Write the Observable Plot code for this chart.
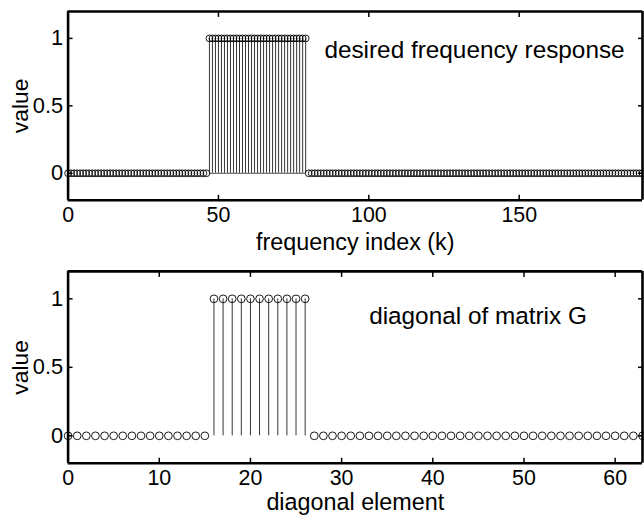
<!DOCTYPE html>
<html>
<head>
<meta charset="utf-8">
<script src="https://cdn.jsdelivr.net/npm/d3@7"></script>
<script src="https://cdn.jsdelivr.net/npm/@observablehq/plot@0.6"></script>
<style>
  html, body { margin: 0; padding: 0; background: #fff; overflow: hidden; width: 644px; height: 522px; }
  #chart svg { display: block; }
</style>
</head>
<body>
<div id="chart"></div>
<script>
// ---- data ----
const freqValues = [
  0,0,0,0,0,0,0,0,0,0,0,0,0,0,0,0,
  0,0,0,0,0,0,0,0,0,0,0,0,0,0,0,0,
  0,0,0,0,0,0,0,0,0,0,0,0,0,0,0,1,
  1,1,1,1,1,1,1,1,1,1,1,1,1,1,1,1,
  1,1,1,1,1,1,1,1,1,1,1,1,1,1,1,1,
  0,0,0,0,0,0,0,0,0,0,0,0,0,0,0,0,
  0,0,0,0,0,0,0,0,0,0,0,0,0,0,0,0,
  0,0,0,0,0,0,0,0,0,0,0,0,0,0,0,0,
  0,0,0,0,0,0,0,0,0,0,0,0,0,0,0,0,
  0,0,0,0,0,0,0,0,0,0,0,0,0,0,0,0,
  0,0,0,0,0,0,0,0,0,0,0,0,0,0,0,0,
  0,0,0,0,0,0,0,0,0,0,0,0,0,0,0,0
];
const diagValues = [
  0,0,0,0,0,0,0,0,0,0,0,0,0,0,0,0,
  1,1,1,1,1,1,1,1,1,1,1,0,0,0,0,0,
  0,0,0,0,0,0,0,0,0,0,0,0,0,0,0,0,
  0,0,0,0,0,0,0,0,0,0,0,0,0,0,0,0
];
const freqTicks = [0, 50, 100, 150];
const diagTicks = [0, 10, 20, 30, 40, 50, 60];
const valueTicks = [0, 0.5, 1];
const freqDomain = [0, 191];
const diagDomain = [0, 63];
const valueDomain = [-0.2, 1.2];
const titles = ["desired frequency response", "diagonal of matrix G"];
const xLabels = ["frequency index (k)", "diagonal element"];
const yLabel = "value";

const FONT = "'Liberation Sans', Arial, Helvetica, sans-serif";

function stemPlot({values, xDomain, xTicks, title, xLabel, height, marginTop, marginBottom, titleDx, titleDy, labelDy, r, baseline}) {
  const data = values.map((v, i) => ({k: i, v}));
  const nonzero = data.filter(d => d.v !== 0);
  const band = baseline && nonzero.length ? [{x1: d3.min(nonzero, d => d.k), x2: d3.max(nonzero, d => d.k)}] : [];
  return Plot.plot({
    width: 648,
    height,
    marginLeft: 68,
    marginRight: 2,
    marginTop,
    marginBottom,
    style: {fontFamily: FONT, fontSize: "22px", color: "#000", background: "#fff", overflow: "visible"},
    x: {domain: xDomain, label: null},
    y: {domain: valueDomain, label: null},
    marks: [
      Plot.ruleX(nonzero, {x: "k", y1: 0, y2: "v", stroke: "#000", strokeWidth: 0.8}),
      Plot.ruleY(band, {x1: "x1", x2: "x2", y: () => 0, stroke: "#000", strokeWidth: 0.7}),
      Plot.dot(data, {x: "k", y: "v", r, stroke: "#000", fill: "none", strokeWidth: 0.9}),
      // frame
      Plot.ruleY(valueDomain, {stroke: "#000", strokeWidth: 2.6}),
      Plot.ruleX(xDomain, {stroke: "#000", strokeWidth: 2.6}),
      // axes with inward ticks
      Plot.axisX(xTicks, {anchor: "bottom", tickSize: -5, tickPadding: 12, fontSize: 21.5, label: null, tickFormat: d => String(d), strokeWidth: 1.5}),
      Plot.axisX(xTicks, {anchor: "top", tickSize: -5, tickFormat: () => "", label: null, strokeWidth: 1.5}),
      Plot.axisY(valueTicks, {anchor: "left", tickSize: -5, tickPadding: 10, fontSize: 22, label: null, tickFormat: d => String(d), strokeWidth: 1.5}),
      Plot.axisY(valueTicks, {anchor: "right", tickSize: -5, tickFormat: () => "", label: null, strokeWidth: 1.5}),
      // labels
      Plot.text([xLabel], {frameAnchor: "bottom", textAnchor: "middle", lineAnchor: "middle", dy: labelDy, fontSize: 23.5, fill: "#000"}),
      Plot.text([yLabel], {frameAnchor: "left", textAnchor: "middle", lineAnchor: "middle", rotate: -90, dx: -48, fontSize: 23, fill: "#000"}),
      Plot.text([title], {frameAnchor: "top-right", textAnchor: "end", lineAnchor: "middle", dx: titleDx, dy: titleDy, fontSize: 24.5, fill: "#000"})
    ]
  });
}

const chart = document.getElementById("chart");
chart.appendChild(stemPlot({
  values: freqValues, xDomain: freqDomain, xTicks: freqTicks, title: titles[0], xLabel: xLabels[0],
  height: 260, marginTop: 11, marginBottom: 59, titleDx: -18, titleDy: 39, labelDy: 43, r: 3.4, baseline: true
}));
chart.appendChild(stemPlot({
  values: diagValues, xDomain: diagDomain, xTicks: diagTicks, title: titles[1], xLabel: xLabels[1],
  height: 262, marginTop: 13, marginBottom: 56, titleDx: -56, titleDy: 45, labelDy: 40, r: 3.9, baseline: false
}));
</script>
</body>
</html>
